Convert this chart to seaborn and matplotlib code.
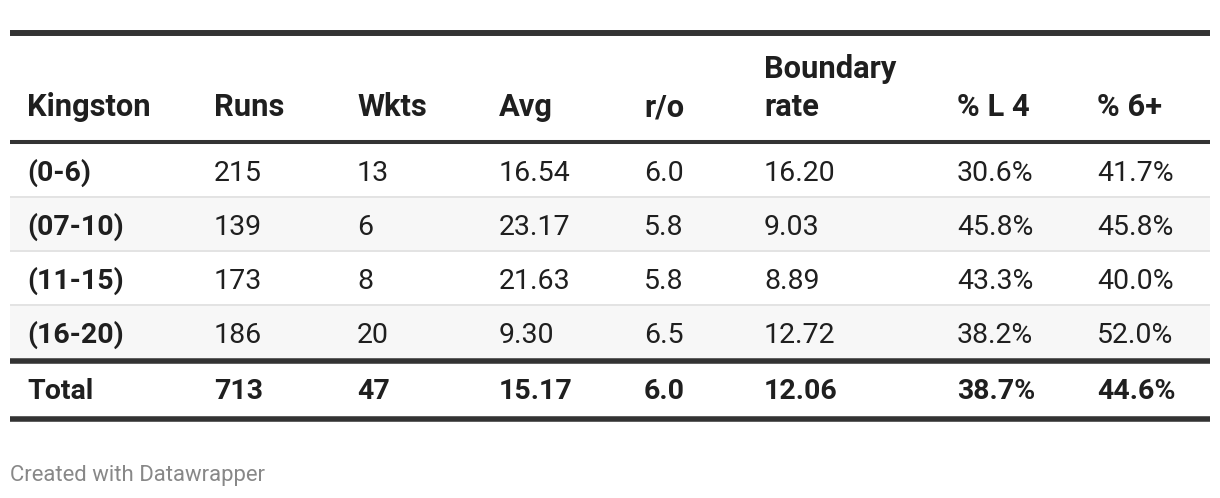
import matplotlib
matplotlib.use("Agg")
import matplotlib.pyplot as plt
import seaborn as sns

# ---------------- data ----------------
headers = ["Kingston", "Runs", "Wkts", "Avg", "r/o", "Boundary\nrate", "% L 4", "% 6+"]
segments = ["(0-6)", "(07-10)", "(11-15)", "(16-20)"]
runs = [215, 139, 173, 186]
wkts = [13, 6, 8, 20]
avg = [16.54, 23.17, 21.63, 9.30]
rpo = [6.0, 5.8, 5.8, 6.5]
boundary_rate = [16.20, 9.03, 8.89, 12.72]
pct_l4 = [30.6, 45.8, 43.3, 38.2]
pct_6p = [41.7, 45.8, 40.0, 52.0]
total_label = "Total"
total_values = [713, 47, 15.17, 6.0, 12.06, 38.7, 44.6]
footer = "Created with Datawrapper"

# ---------------- style ----------------
sns.set_theme(style="white")
plt.rcParams["font.family"] = ["Roboto", "DejaVu Sans"]

W, H, DPI = 1220, 498, 100
fig = plt.figure(figsize=(W / DPI, H / DPI), dpi=DPI)
ax = fig.add_axes([0, 0, 1, 1])
ax.set_xlim(0, W)
ax.set_ylim(H, 0)
ax.axis("off")

FS = 20.5
FS_HEAD = 22.2
TXT = "#1f1f1f"
LINE = "#333333"
col_x = [27, 214, 357, 499, 644, 764, 957, 1097]
left, right = 10, 1210
xmin, xmax = left / W, right / W

def fmt_row(i):
    return [segments[i], f"{runs[i]}", f"{wkts[i]}", f"{avg[i]:.2f}", f"{rpo[i]:.1f}",
            f"{boundary_rate[i]:.2f}", f"{pct_l4[i]:.1f}%", f"{pct_6p[i]:.1f}%"]

total_row = [total_label, f"{total_values[0]}", f"{total_values[1]}", f"{total_values[2]:.2f}",
             f"{total_values[3]:.1f}", f"{total_values[4]:.2f}", f"{total_values[5]:.1f}%",
             f"{total_values[6]:.1f}%"]

# row bands
row_top = [144, 197, 251, 305]
row_bot = [197, 251, 305, 358]
for i in range(len(segments)):
    if i % 2 == 1:
        ax.axhspan(row_top[i], row_bot[i], xmin=xmin, xmax=xmax, color="#f7f7f7", lw=0, zorder=0)
for y in [197, 251, 305]:
    ax.hlines(y, left, right, color="#e3e3e3", lw=1.4, zorder=1)

# heavy rules
ax.hlines(33, left, right, color=LINE, lw=4.3, zorder=2)
ax.hlines(142, left, right, color=LINE, lw=2.9, zorder=2)
ax.hlines(361, left, right, color=LINE, lw=4.0, zorder=2)
ax.hlines(419, left, right, color=LINE, lw=4.0, zorder=2)

# header
for x, h in zip(col_x, headers):
    lines = h.split("\n")
    for k, ln in enumerate(reversed(lines)):
        ax.text(x, 116 - 38 * k, ln, fontsize=FS_HEAD, fontweight="bold", color=TXT,
                ha="left", va="baseline")

# body
baselines = [181, 235, 289, 343]
for i in range(len(segments)):
    vals = fmt_row(i)
    for j, (x, v) in enumerate(zip(col_x, vals)):
        ax.text(x, baselines[i], v, fontsize=FS, fontweight="bold" if j == 0 else "normal",
                color=TXT, ha="left", va="baseline")

# total
for x, v in zip(col_x, total_row):
    ax.text(x, 399, v, fontsize=FS, fontweight="bold", color=TXT, ha="left", va="baseline")

ax.text(10, 481, footer, fontsize=15.9, color="#888888", ha="left", va="baseline")

fig.savefig("out.png", dpi=DPI, facecolor="white")
